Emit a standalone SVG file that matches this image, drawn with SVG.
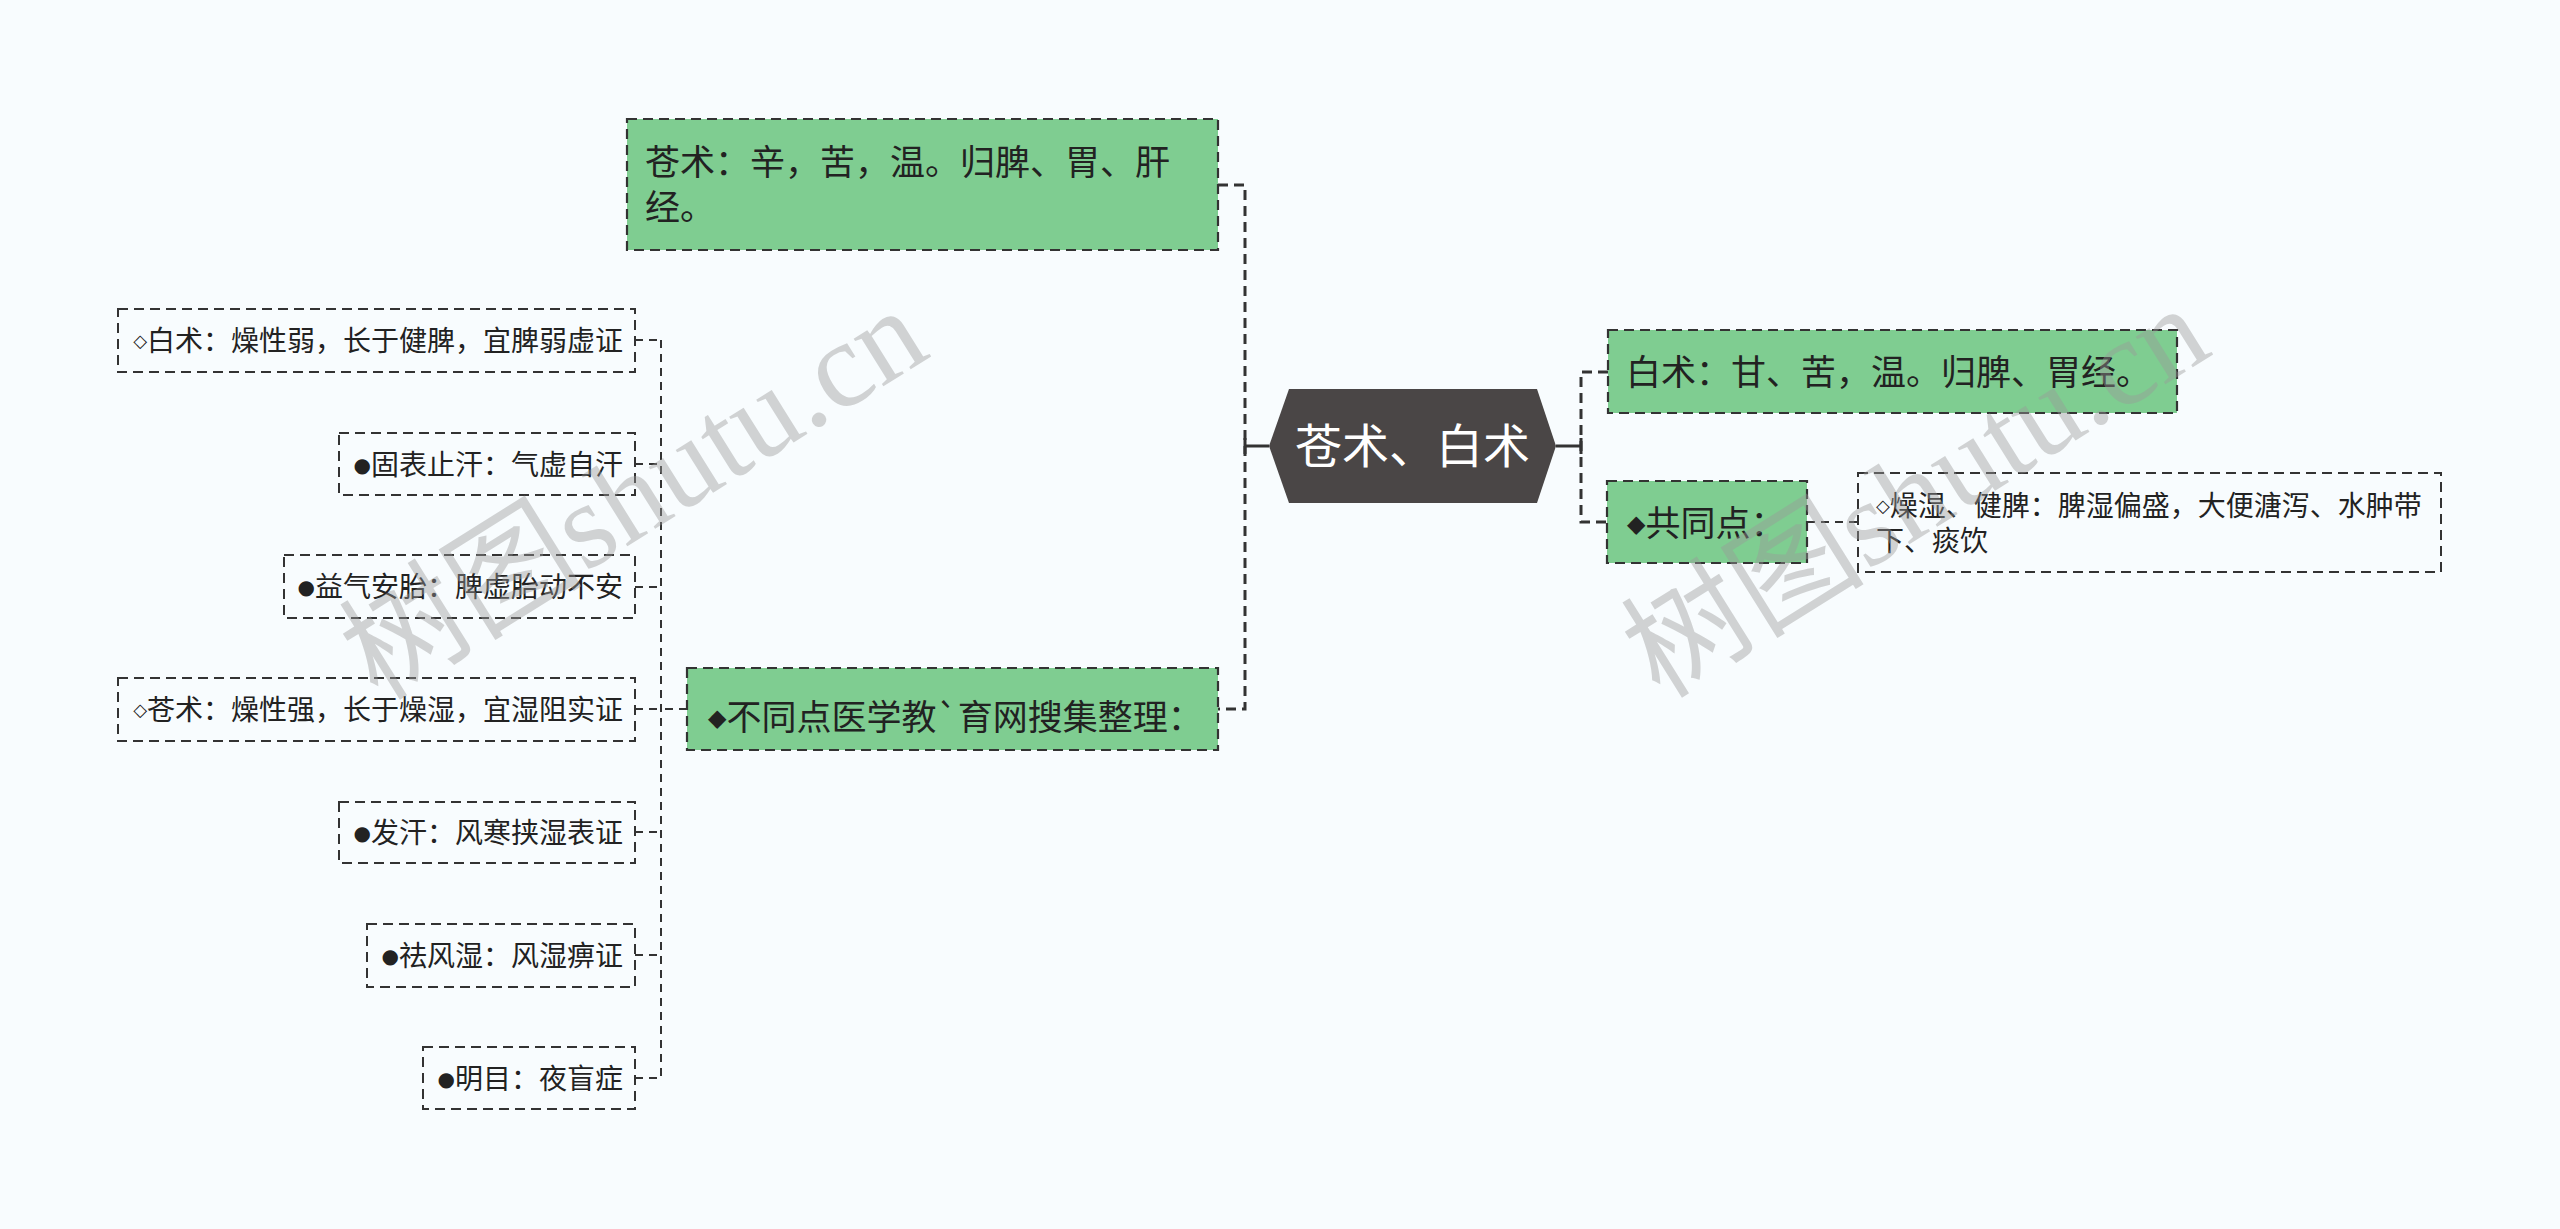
<svg xmlns="http://www.w3.org/2000/svg" width="2560" height="1229" viewBox="0 0 2560 1229">
<style>
.bg{fill:#f8fcfe}
.green{fill:#7fcd91;stroke:#333;stroke-width:2.2;stroke-dasharray:10 6}
.leaf{fill:none;stroke:#333;stroke-width:2;stroke-dasharray:10 6}
.t{font-family:"Noto Sans CJK SC","Noto Sans",sans-serif;fill:#222}
.big{font-size:35px}
.small{font-size:28px}
.sym{font-family:"DejaVu Sans",sans-serif}
.main{stroke:#333;stroke-width:3;stroke-dasharray:10 6;fill:none}
.solid{stroke:#333;stroke-width:3;fill:none}
.thin{stroke:#333;stroke-width:2;stroke-dasharray:8 6;fill:none}
.wm{font-family:"Liberation Serif","Noto Sans CJK SC",serif;font-size:122px;fill:#9a9a9a;opacity:0.42}
</style>
<rect class="bg" x="0" y="0" width="2560" height="1229"/>

<g id="connectors">
  <path class="solid" d="M1269 446 H1245 M1245 438 V454"/>
  <path class="solid" d="M1556 446 H1581 M1581 438 V454"/>
  <path class="main" d="M1218 185 H1245 V709 H1218"/>
  <path class="main" d="M1608 372 H1581 V522 H1607"/>
  <path class="thin" d="M1807 522 H1858"/>
  <path class="thin" d="M687 709 H661"/>
  <path class="thin" d="M661 340 V1078"/>
  <path class="thin" d="M635 340 H661 M635 464 H661 M635 587 H661 M635 709 H661 M635 832 H661 M635 955 H661 M635 1078 H661"/>
</g>

<g id="root">
  <polygon points="1269,446 1289,389 1537,389 1556,446 1537,503 1289,503" fill="#4a4646"/>
  <text class="t" x="1412.5" y="463" font-size="47" style="fill:#fff" text-anchor="middle">苍术、白术</text>
</g>

<g id="n-cangzhu">
  <rect class="green" x="627" y="119" width="591" height="131"/>
  <text class="t big"><tspan x="645" y="175">苍术：辛，苦，温。归脾、胃、肝</tspan><tspan x="645" y="220">经。</tspan></text>
</g>

<g id="n-baizhu">
  <rect class="green" x="1608" y="330" width="569" height="83"/>
  <text class="t big" x="1626" y="385">白术：甘、苦，温。归脾、胃经。</text>
</g>

<g id="n-gongtong">
  <rect class="green" x="1607" y="481" width="200" height="82"/>
  <text class="t big" x="1627" y="536"><tspan class="sym" font-size="24" dy="-4">◆</tspan><tspan dy="4">共同点：</tspan></text>
</g>

<g id="n-gongtong-detail">
  <rect class="leaf" x="1858" y="473" width="583" height="99"/>
  <text class="t small"><tspan x="1876" y="512" class="sym" font-size="18">◇</tspan><tspan y="516">燥湿、健脾：脾湿偏盛，大便溏泻、水肿带</tspan><tspan x="1876" y="551">下、痰饮</tspan></text>
</g>

<g id="n-butong">
  <rect class="green" x="687" y="668" width="531" height="82"/>
  <text class="t big" x="708" y="730"><tspan class="sym" font-size="24" dy="-4">◆</tspan><tspan dy="4">不同点医学教`育网搜集整理：</tspan></text>
</g>

<g id="n-l1">
  <rect class="leaf" x="118" y="309" width="517" height="63"/>
  <text class="t small" x="623" y="351" text-anchor="end"><tspan class="sym" font-size="18" dy="-4">◇</tspan><tspan dy="4">白术：燥性弱，长于健脾，宜脾弱虚证</tspan></text>
</g>
<g id="n-l2">
  <rect class="leaf" x="339" y="433" width="296" height="62"/>
  <text class="t small" x="623" y="475" text-anchor="end"><tspan class="sym" font-size="20" dy="-3">●</tspan><tspan dy="3">固表止汗：气虚自汗</tspan></text>
</g>
<g id="n-l3">
  <rect class="leaf" x="284" y="555" width="351" height="63"/>
  <text class="t small" x="623" y="597" text-anchor="end"><tspan class="sym" font-size="20" dy="-3">●</tspan><tspan dy="3">益气安胎：脾虚胎动不安</tspan></text>
</g>
<g id="n-l4">
  <rect class="leaf" x="118" y="678" width="517" height="63"/>
  <text class="t small" x="623" y="720" text-anchor="end"><tspan class="sym" font-size="18" dy="-4">◇</tspan><tspan dy="4">苍术：燥性强，长于燥湿，宜湿阻实证</tspan></text>
</g>
<g id="n-l5">
  <rect class="leaf" x="339" y="802" width="296" height="61"/>
  <text class="t small" x="623" y="843" text-anchor="end"><tspan class="sym" font-size="20" dy="-3">●</tspan><tspan dy="3">发汗：风寒挟湿表证</tspan></text>
</g>
<g id="n-l6">
  <rect class="leaf" x="367" y="924" width="268" height="63"/>
  <text class="t small" x="623" y="966" text-anchor="end"><tspan class="sym" font-size="20" dy="-3">●</tspan><tspan dy="3">祛风湿：风湿痹证</tspan></text>
</g>
<g id="n-l7">
  <rect class="leaf" x="423" y="1047" width="212" height="62"/>
  <text class="t small" x="623" y="1089" text-anchor="end"><tspan class="sym" font-size="20" dy="-3">●</tspan><tspan dy="3">明目：夜盲症</tspan></text>
</g>

<g id="watermarks">
  <text class="wm" x="378" y="702" transform="rotate(-32 378 702)">树图shutu.cn</text>
  <text class="wm" x="1660" y="700" transform="rotate(-32 1660 700)">树图shutu.cn</text>
</g>
</svg>
